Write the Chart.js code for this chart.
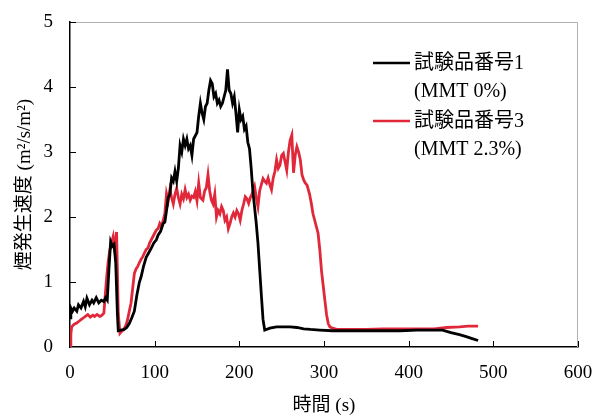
<!DOCTYPE html>
<html lang="ja">
<head>
<meta charset="utf-8">
<title>煙発生速度</title>
<script src="https://cdn.jsdelivr.net/npm/chart.js@4.4.1/dist/chart.umd.min.js"></script>
<style>
    html, body { margin: 0; padding: 0; background: #fff; }
    #wrap { width: 596px; height: 417px; }
</style>
</head>
<body>
<div id="wrap"><canvas id="smokeChart"></canvas></div>
<script>
// Data
const blackTime = [0, 1, 3, 5, 8, 10, 13, 16, 18, 20, 23, 26, 28, 31, 34, 37, 40, 42, 44, 46, 48, 50, 52, 54, 56, 57, 60, 64, 67, 70, 73, 76, 79, 82, 84, 87, 90, 93, 96, 99, 102, 104, 107, 110, 112, 114, 116, 118, 120, 122, 124, 126, 128, 130, 132, 134, 136, 138, 140, 142, 144, 146, 148, 150, 152, 154, 156, 158, 160, 162, 164, 166, 168, 170, 172, 174, 176, 178, 180, 182, 184, 186, 188, 190, 192, 194, 196, 198, 200, 202, 204, 206, 208, 210, 212, 214, 216, 218, 220, 222, 224, 226, 228, 230, 232, 236, 244, 252, 260, 268, 276, 284, 295, 310, 330, 350, 370, 390, 410, 430, 440, 450, 460, 468, 475, 482];
const blackValue = [0.45, 0.6, 0.55, 0.6, 0.55, 0.65, 0.6, 0.7, 0.62, 0.75, 0.65, 0.72, 0.68, 0.76, 0.68, 0.72, 0.7, 0.76, 0.72, 1.2, 1.62, 1.55, 1.58, 1.3, 0.5, 0.25, 0.26, 0.27, 0.3, 0.36, 0.45, 0.55, 0.8, 1.0, 1.08, 1.25, 1.38, 1.45, 1.52, 1.6, 1.65, 1.72, 1.78, 1.9, 1.92, 2.1, 2.3, 2.35, 2.6, 2.55, 2.7, 2.55, 2.75, 3.1, 3.0, 3.2, 3.1, 3.2, 3.05, 3.1, 2.95, 3.2, 3.25, 3.3, 3.55, 3.75, 3.6, 3.5, 3.7, 3.75, 3.95, 4.1, 4.05, 3.85, 3.9, 3.75, 3.8, 3.7, 3.75, 3.85, 3.95, 4.27, 3.95, 3.9, 3.75, 3.85, 3.6, 3.3, 3.65, 3.5, 3.55, 3.35, 3.4, 3.15, 3.05, 2.75, 2.4, 2.15, 1.9, 1.6, 1.2, 0.8, 0.42, 0.26, 0.27, 0.29, 0.31, 0.31, 0.31, 0.3, 0.28, 0.27, 0.26, 0.25, 0.25, 0.25, 0.25, 0.25, 0.26, 0.26, 0.26, 0.22, 0.19, 0.16, 0.13, 0.1];

const redTime = [0, 1, 2, 5, 8, 11, 13, 16, 19, 21, 24, 27, 29, 32, 35, 37, 40, 43, 45, 47, 49, 51, 53, 55, 57, 59, 61, 63, 66, 68, 70, 72, 74, 76, 78, 80, 82, 84, 86, 88, 90, 92, 94, 96, 98, 100, 102, 104, 106, 108, 110, 112, 114, 116, 118, 120, 122, 124, 126, 128, 130, 132, 134, 136, 138, 140, 142, 144, 146, 148, 150, 152, 154, 157, 159, 161, 163, 165, 167, 169, 171, 173, 175, 177, 179, 181, 183, 185, 187, 189, 191, 193, 195, 197, 199, 201, 203, 205, 207, 209, 211, 213, 215, 218, 220, 222, 224, 226, 228, 230, 232, 234, 236, 238, 240, 242, 244, 246, 248, 250, 252, 254, 256, 258, 260, 262, 264, 266, 268, 270, 272, 274, 276, 278, 280, 283, 285, 287, 289, 291, 293, 295, 297, 299, 301, 303, 305, 307, 310, 315, 330, 350, 370, 390, 410, 430, 445, 460, 470, 482];
const redValue = [0.0, 0.2, 0.31, 0.35, 0.37, 0.4, 0.42, 0.45, 0.48, 0.5, 0.46, 0.49, 0.47, 0.5, 0.47, 0.48, 0.52, 1.03, 1.3, 1.49, 1.6, 1.7, 1.49, 1.77, 0.52, 0.21, 0.24, 0.26, 0.33, 0.42, 0.55, 0.67, 0.9, 1.13, 1.2, 1.24, 1.3, 1.35, 1.39, 1.45, 1.5, 1.52, 1.6, 1.65, 1.7, 1.75, 1.8, 1.82, 1.9, 1.85, 1.95, 2.05, 2.36, 2.25, 2.42, 2.3, 2.2, 2.35, 2.44, 2.3, 2.2, 2.35, 2.28, 2.42, 2.3, 2.35, 2.26, 2.32, 2.3, 2.39, 2.25, 2.52, 2.3, 2.26, 2.4, 2.45, 2.65, 2.4, 2.26, 2.2, 2.35, 2.0, 2.1, 2.05, 2.16, 2.1, 1.95, 2.0, 1.82, 1.9, 2.0, 2.06, 2.0, 2.1, 2.05, 1.95, 2.1, 2.2, 2.31, 2.28, 2.21, 2.3, 2.35, 2.47, 2.3, 2.16, 2.4, 2.5, 2.59, 2.55, 2.52, 2.6, 2.5, 2.42, 2.6, 2.7, 2.88, 2.75, 2.8, 2.95, 2.98, 2.85, 2.72, 3.0, 3.18, 3.26, 2.68, 2.95, 3.08, 3.0, 2.88, 2.65, 2.57, 2.52, 2.49, 2.35, 2.21, 2.05, 1.95, 1.85, 1.75, 1.5, 1.18, 0.95, 0.72, 0.5, 0.36, 0.31, 0.29, 0.27, 0.27, 0.27, 0.28, 0.28, 0.28, 0.28, 0.3, 0.31, 0.32, 0.32];

const xTicks = [0, 100, 200, 300, 400, 500, 600];
const yTicks = [0, 1, 2, 3, 4, 5];
const seriesLabels = [['試験品番号1', '(MMT 0%)'], ['試験品番号3', '(MMT 2.3%)']];
const seriesColors = ['#000000', '#e1283a'];

const FONT = "'Liberation Serif', 'Noto Sans CJK JP', serif";

function toPoints(xs, ys) {
    return xs.map((x, i) => ({ x: x, y: ys[i] }));
}

// light gray frame on top and right, inward tick marks
const framePlugin = {
    id: 'frame',
    beforeDatasetsDraw(chart) {
        const { ctx, chartArea: a } = chart;
        ctx.save();
        ctx.strokeStyle = '#b0b0b0';
        ctx.lineWidth = 1;
        ctx.beginPath();
        ctx.moveTo(a.left, a.top + 0.5);
        ctx.lineTo(a.right - 0.5, a.top + 0.5);
        ctx.lineTo(a.right - 0.5, a.bottom);
        ctx.stroke();

        ctx.strokeStyle = '#000';
        const xs = chart.scales.x;
        const ys = chart.scales.y;
        ctx.beginPath();
        xTicks.forEach(v => {
            if (v === 0) return;
            const px = Math.round(xs.getPixelForValue(v)) + 0.5;
            ctx.moveTo(px, a.bottom);
            ctx.lineTo(px, a.bottom - 6);
        });
        yTicks.forEach(v => {
            if (v === 0) return;
            const py = Math.round(ys.getPixelForValue(v)) + 0.5;
            ctx.moveTo(a.left, py);
            ctx.lineTo(a.left + 6, py);
        });
        ctx.stroke();
        ctx.restore();
    }
};

// two-line legend in the upper right
const legendPlugin = {
    id: 'twoLineLegend',
    afterDraw(chart) {
        const { ctx } = chart;
        ctx.save();
        ctx.font = '20px ' + FONT;
        ctx.textBaseline = 'middle';
        ctx.fillStyle = '#000';
        chart.data.datasets.forEach((ds, i) => {
            const y = 63 + i * 58;
            ctx.strokeStyle = ds.borderColor;
            ctx.lineWidth = 2.5;
            ctx.beginPath();
            ctx.moveTo(373, y);
            ctx.lineTo(410, y);
            ctx.stroke();
            ds.label.forEach((line, j) => {
                ctx.fillText(line, 414, y + 1 + j * 28);
            });
        });
        ctx.restore();
    }
};

const ctx = document.getElementById('smokeChart');

new Chart(ctx, {
    type: 'line',
    data: {
        datasets: [
            {
                label: seriesLabels[0],
                data: toPoints(blackTime, blackValue),
                borderColor: seriesColors[0],
                borderWidth: 2.8,
                pointRadius: 0,
                tension: 0
            },
            {
                label: seriesLabels[1],
                data: toPoints(redTime, redValue),
                borderColor: seriesColors[1],
                borderWidth: 2.8,
                pointRadius: 0,
                tension: 0
            }
        ]
    },
    options: {
        responsive: true,
        maintainAspectRatio: false,
        animation: false,
        layout: {
            padding: { top: 22, right: 18, left: 0, bottom: 0 }
        },
        plugins: {
            legend: { display: false },
            tooltip: { enabled: false }
        },
        scales: {
            x: {
                type: 'linear',
                min: 0,
                max: 600,
                afterBuildTicks: s => { s.ticks = xTicks.map(v => ({ value: v })); },
                afterFit: s => {
                    s.height = 70;
                    s.paddingLeft = 0;
                    s.paddingRight = 0;
                },
                grid: { display: false, drawTicks: false },
                border: { display: true, color: '#000', width: 1.5 },
                ticks: {
                    color: '#000',
                    padding: 15,
                    maxRotation: 0,
                    font: { family: FONT, size: 19 }
                },
                title: {
                    display: true,
                    text: '時間 (s)',
                    color: '#000',
                    padding: { top: 0, bottom: 0 },
                    font: { family: FONT, size: 19 }
                }
            },
            y: {
                min: 0,
                max: 5,
                afterBuildTicks: s => { s.ticks = yTicks.map(v => ({ value: v })); },
                afterFit: s => {
                    s.width = 70;
                    s.paddingTop = 0;
                    s.paddingBottom = 0;
                },
                grid: { display: false, drawTicks: false },
                border: { display: true, color: '#000', width: 1.5 },
                ticks: {
                    color: '#000',
                    padding: 17,
                    font: { family: FONT, size: 19 }
                },
                title: {
                    display: true,
                    text: '煙発生速度 (m²/s/m²)',
                    color: '#000',
                    padding: { top: 14, bottom: 0 },
                    font: { family: FONT, size: 19 }
                }
            }
        }
    },
    plugins: [framePlugin, legendPlugin]
});
</script>
</body>
</html>
